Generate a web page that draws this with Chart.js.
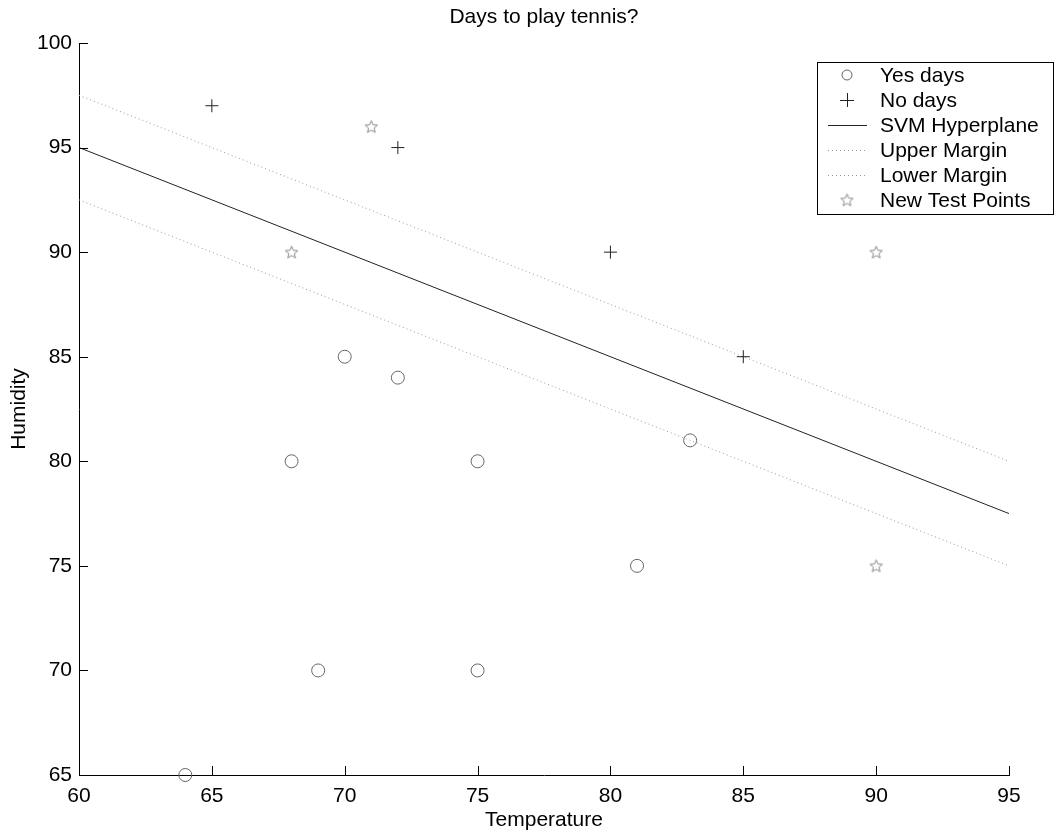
<!DOCTYPE html>
<html>
<head>
<meta charset="utf-8">
<title>Days to play tennis?</title>
<script src="https://cdn.jsdelivr.net/npm/chart.js@4.4.0/dist/chart.umd.min.js"></script>
<style>
  html, body { margin: 0; padding: 0; background: #fff; }
  #wrap { width: 1055px; height: 837px; }
</style>
</head>
<body>
<div id="wrap"><canvas id="tennisChart" width="1055" height="837"></canvas></div>
<script>
// data
const yesTemp = [64, 68, 69, 70, 72, 75, 75, 81, 83];
const yesHum = [65, 80, 70, 85, 84, 80, 70, 75, 81];
const noTemp = [65, 72, 80, 85];
const noHum = [97, 95, 90, 85];
const testTemp = [71, 68, 90, 90];
const testHum = [96, 90, 90, 75];
const lineTemp = [60, 95];
const svmHum = [95, 77.5];
const upperHum = [97.5, 80];
const lowerHum = [92.5, 75];
const xTicks = [60, 65, 70, 75, 80, 85, 90, 95];
const yTicks = [65, 70, 75, 80, 85, 90, 95, 100];

const FONT = 'Arial, "Liberation Sans", sans-serif';

function toPoints(xs, ys) {
    return xs.map((x, i) => ({ x: x, y: ys[i] }));
}

// small outlined 5-point star, like the matlab 'p' marker
function makeStar(r, color) {
    const c = document.createElement('canvas');
    const s = Math.ceil(r * 2 + 4);
    c.width = s;
    c.height = s;
    const g = c.getContext('2d');
    g.strokeStyle = color;
    g.lineWidth = 1;
    g.beginPath();
    for (let i = 0; i < 10; i++) {
        const a = -Math.PI / 2 + i * Math.PI / 5;
        const rr = i % 2 === 0 ? r : r * 0.45;
        const px = s / 2 + rr * Math.cos(a);
        const py = s / 2 + 0.5 + rr * Math.sin(a);
        if (i === 0) g.moveTo(px, py); else g.lineTo(px, py);
    }
    g.closePath();
    g.stroke();
    return c;
}

const starImg = makeStar(6.5, '#888');

// inward tick marks, matlab style
const inwardTicks = {
    id: 'inwardTicks',
    afterDatasetsDraw(chart) {
        const ctx = chart.ctx;
        const xs = chart.scales.x, ys = chart.scales.y;
        const area = chart.chartArea;
        ctx.save();
        ctx.strokeStyle = '#000';
        ctx.lineWidth = 1;
        ctx.beginPath();
        xTicks.forEach(v => {
            const px = Math.round(xs.getPixelForValue(v)) + 0.5;
            ctx.moveTo(px, area.bottom);
            ctx.lineTo(px, area.bottom - 9);
        });
        yTicks.forEach(v => {
            const py = Math.round(ys.getPixelForValue(v)) + 0.5;
            ctx.moveTo(area.left, py);
            ctx.lineTo(area.left + 9, py);
        });
        ctx.stroke();
        ctx.restore();
    }
};

// boxed legend in the top right corner
const boxLegend = {
    id: 'boxLegend',
    afterDraw(chart) {
        const ctx = chart.ctx;
        const left = 817, top = 62, w = 236, h = 152;
        ctx.save();
        ctx.fillStyle = '#fff';
        ctx.fillRect(left, top, w, h);
        ctx.strokeStyle = '#000';
        ctx.lineWidth = 1;
        ctx.strokeRect(left + 0.5, top + 0.5, w, h);

        ctx.font = '21px ' + FONT;
        ctx.textBaseline = 'middle';
        ctx.textAlign = 'left';
        chart.data.datasets.forEach((ds, i) => {
            const cy = 75 + i * 25;
            const cx = 847;
            ctx.save();
            if (ds.type === 'line') {
                ctx.strokeStyle = ds.borderColor;
                ctx.lineWidth = ds.borderWidth;
                ctx.setLineDash(ds.borderDash || []);
                ctx.beginPath();
                ctx.moveTo(828, cy + 0.5);
                ctx.lineTo(867, cy + 0.5);
                ctx.stroke();
            } else if (ds.pointStyle === 'circle') {
                ctx.strokeStyle = ds.borderColor;
                ctx.lineWidth = 1;
                ctx.beginPath();
                ctx.arc(cx, cy, 5, 0, Math.PI * 2);
                ctx.stroke();
            } else if (ds.pointStyle === 'cross') {
                ctx.strokeStyle = ds.borderColor;
                ctx.lineWidth = 1;
                ctx.beginPath();
                ctx.moveTo(cx - 7, cy + 0.5);
                ctx.lineTo(cx + 7, cy + 0.5);
                ctx.moveTo(cx + 0.5, cy - 7);
                ctx.lineTo(cx + 0.5, cy + 7);
                ctx.stroke();
            } else {
                ctx.drawImage(starImg, cx - starImg.width / 2, cy - starImg.height / 2);
            }
            ctx.restore();
            ctx.fillStyle = '#000';
            ctx.fillText(ds.label, 880, cy + 1);
        });
        ctx.restore();
    }
};

const ctx = document.getElementById('tennisChart');
const chart = new Chart(ctx, {
    type: 'scatter',
    data: {
        datasets: [{
            label: 'Yes days',
            data: toPoints(yesTemp, yesHum),
            pointStyle: 'circle',
            pointRadius: 6.5,
            borderColor: '#666',
            backgroundColor: 'rgba(0,0,0,0)',
            borderWidth: 1,
            clip: false
        }, {
            label: 'No days',
            data: toPoints(noTemp, noHum),
            pointStyle: 'cross',
            pointRadius: 6.5,
            borderColor: '#222',
            borderWidth: 1,
            clip: false
        }, {
            type: 'line',
            label: 'SVM Hyperplane',
            data: toPoints(lineTemp, svmHum),
            borderColor: '#222',
            borderWidth: 1,
            pointRadius: 0,
            fill: false
        }, {
            type: 'line',
            label: 'Upper Margin',
            data: toPoints(lineTemp, upperHum),
            borderColor: '#999',
            borderWidth: 1,
            borderDash: [1, 3],
            pointRadius: 0,
            fill: false
        }, {
            type: 'line',
            label: 'Lower Margin',
            data: toPoints(lineTemp, lowerHum),
            borderColor: '#999',
            borderWidth: 1,
            borderDash: [1, 3],
            pointRadius: 0,
            fill: false
        }, {
            label: 'New Test Points',
            data: toPoints(testTemp, testHum),
            pointStyle: starImg,
            pointRadius: 6.5,
            clip: false
        }]
    },
    options: {
        responsive: false,
        animation: false,
        layout: { padding: { left: 0, right: 46, top: 0, bottom: 0 } },
        scales: {
            x: {
                type: 'linear',
                min: 60,
                max: 95,
                afterBuildTicks: s => { s.ticks = xTicks.map(v => ({ value: v })); },
                afterFit: s => { s.height = 62; },
                grid: { display: false, drawTicks: false },
                border: { display: true, color: '#000', width: 1 },
                ticks: { color: '#000', font: { family: FONT, size: 21 }, padding: 9, maxRotation: 0 },
                title: { display: true, text: 'Temperature', color: '#000', font: { family: FONT, size: 21 }, padding: { top: 0, bottom: 4.5 } }
            },
            y: {
                type: 'linear',
                min: 65,
                max: 100,
                afterBuildTicks: s => { s.ticks = yTicks.map(v => ({ value: v })); },
                afterFit: s => { s.width = 79; },
                grid: { display: false, drawTicks: false },
                border: { display: true, color: '#000', width: 1 },
                ticks: { color: '#000', font: { family: FONT, size: 21 }, padding: 7 },
                title: { display: true, text: 'Humidity', color: '#000', font: { family: FONT, size: 21 }, padding: { top: 6.4, bottom: 0 } }
            }
        },
        plugins: {
            legend: { display: false },
            tooltip: { enabled: false },
            title: {
                display: true,
                fullSize: false,
                text: 'Days to play tennis?',
                color: '#000',
                font: { family: FONT, size: 21, weight: 'normal' },
                padding: { top: 4.4, bottom: 13.4 }
            }
        }
    },
    plugins: [inwardTicks, boxLegend]
});
</script>
</body>
</html>
